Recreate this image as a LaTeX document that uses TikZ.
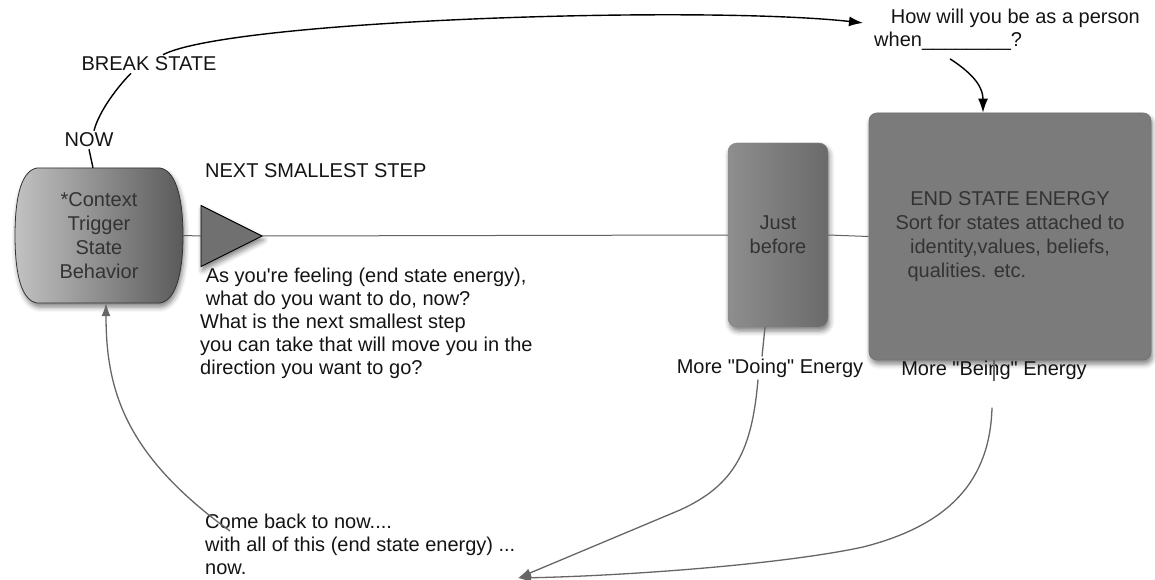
\documentclass[tikz,border=0pt]{standalone}
\usepackage{fontspec}
\setmainfont{Liberation Sans}
\usetikzlibrary{arrows.meta,shadows.blur,calc,shapes.geometric}
\definecolor{ctxlight}{HTML}{C2C2C2}
\definecolor{ctxdark}{HTML}{5A5A5A}
\definecolor{jblight}{HTML}{8E8E8E}
\definecolor{jbdark}{HTML}{6A6A6A}
\definecolor{endfill}{HTML}{7B7B7B}
\definecolor{boxtext}{HTML}{333333}
\begin{document}
\begin{tikzpicture}[x=1pt,y=-1pt,
  lbl/.style={font=\fontsize{20}{23}\selectfont, text=black!92, inner sep=2pt},
  intext/.style={font=\fontsize{20}{24}\selectfont, text=boxtext, align=center},
  mainline/.style={draw=black!62, line width=1pt},
  blackarrow/.style={draw=black, line width=1.4pt, -{Latex[length=14pt,width=10pt]}},
  blackline/.style={draw=black, line width=1.4pt},
  grayline/.style={draw=black!60, line width=1.3pt},
  grayarrow/.style={grayline, -{Latex[length=13pt,width=9pt]}},
  softshadow/.style={blur shadow={shadow xshift=1.5pt, shadow yshift=-4pt, shadow blur radius=5pt, shadow opacity=50}},
]
\useasboundingbox (0,0) rectangle (1155,580);

% context shape
\path[softshadow, left color=ctxlight, right color=ctxdark, draw=black!80, line width=0.8pt]
  (37,168) -- (160,168) .. controls (178,171) and (183,205) .. (183,235.5)
  .. controls (183,266) and (178,300) .. (160,303) -- (37,303)
  .. controls (19,300) and (15,266) .. (15,235.5)
  .. controls (15,205) and (19,171) .. (37,168) -- cycle;
\node[intext, minimum width=168pt, minimum height=135pt] (ctx) at (99,235.5)
  {*Context\\Trigger\\State\\Behavior};

% triangle
\node[isosceles triangle, isosceles triangle stretches, minimum width=61pt, minimum height=61pt,
  inner sep=0pt, outer sep=0pt, fill=black!56, draw=black, line width=0.9pt, softshadow,
  anchor=apex] (tri) at (262,236) {};

% just before box
\node[intext, softshadow, minimum width=100pt, minimum height=184pt, rounded corners=9pt,
  left color=jblight, right color=jbdark, draw=black!50, line width=0.4pt] (jb) at (778,235) {Just\\before};

% end state box
\node[intext, softshadow, minimum width=282pt, minimum height=247pt, rounded corners=8pt,
  fill=endfill, draw=black!55, line width=0.7pt] (end) at (1010,236.5)
  {END STATE ENERGY\\Sort for states attached to\\identity,values, beliefs,\\\makebox[205pt][l]{qualities. etc.}};

% labels
\node[lbl] (break) at (149,64) {BREAK STATE};
\node[lbl] (now) at (89,140) {NOW};
\node[lbl, anchor=west] (next) at (203,171) {NEXT SMALLEST STEP};
\node[lbl, align=left, anchor=north west] (how) at (872,7) {\ \ \ How will you be as a person\\when\_\_\_\_\_\_\_\_?};
\node[lbl, align=left, anchor=north west] (feel) at (198,266)
  {\ As you\textquotesingle re feeling (end state energy),\\\ what do you want to do, now?\\What is the next smallest step\\you can take that will move you in the\\direction you want to go?};
\node[lbl] (doing) at (770,368) {More \textquotedbl Doing\textquotedbl\ Energy};
\node[lbl] (being) at (994,370) {More \textquotedbl Being\textquotedbl\ Energy};
\node[lbl, align=left, anchor=north west] (come) at (203,512)
  {Come back to now....\\with all of this (end state energy) ...\\now.};
\coordinate (tip) at (518,578);

% connectors
\draw[mainline] (ctx.east) -- (tri.west);
\draw[mainline] (tri.apex) -- (jb.west);
\draw[mainline] (jb.east) -- (end.west);

\draw[blackline] ($(ctx.north)+(-6,0)$) -- (now.south);
\draw[blackline] ($(now.north)+(5,0)$) .. controls +(5,-20) and +(-12,12) .. ($(break.south)+(-18,0)$);
\draw[blackarrow] ($(break.north)+(14,0)$) .. controls (230,20) and (700,5) .. ($(how.west)+(-9,-7)$);
\draw[blackarrow] ($(how.south)+(-57,6)$) .. controls (975,75) and (983,88) .. ($(end.north)+(-27,0)$);

\draw[grayline] ($(jb.south)+(-13,0)$) -- ($(doing.north)+(-8,0)$);
\draw[grayarrow] ($(doing.south)+(-12,0)$) .. controls (752,450) and (735,485) .. (680,510) -- (tip);
\draw[grayline] (end.south -| being.center) -- ($(being.center)+(0,11)$);
\draw[grayarrow] ($(being.south)+(-2,26)$) .. controls (990,480) and (950,525) .. (863,547)
  .. controls (780,565) and (620,576) .. (tip);
\draw[grayarrow] ($(come.north west)+(27,19)$) .. controls (125,455) and (106,390) .. ($(ctx.south)+(7,0)$);
\end{tikzpicture}
\end{document}
